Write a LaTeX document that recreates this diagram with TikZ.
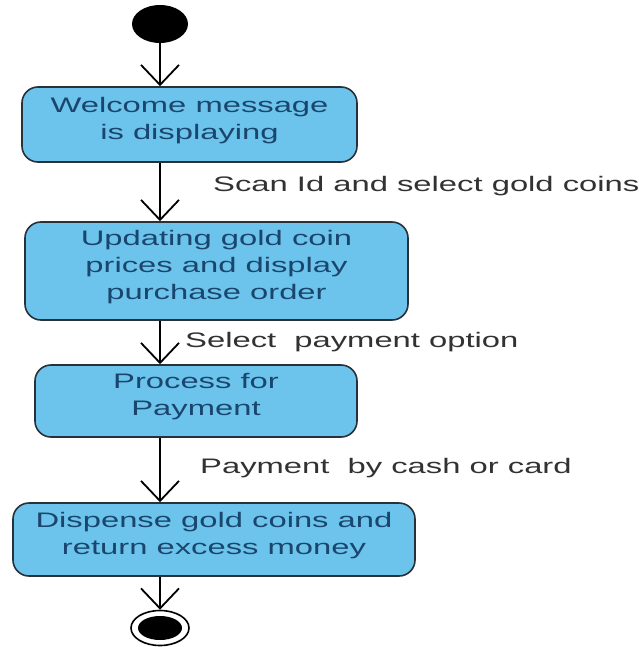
\documentclass[tikz,border=0pt]{standalone}
\usepackage{fontspec}
\usetikzlibrary{arrows.meta,shapes.geometric}
\newfontfamily\diagfont[FakeStretch=1.56]{Liberation Sans}
\definecolor{actfill}{RGB}{108,196,236}
\definecolor{actline}{RGB}{40,48,56}
\definecolor{acttext}{RGB}{26,70,110}
\definecolor{lbltext}{RGB}{50,50,50}
\tikzset{
  activity/.style={draw=actline, line width=1.6pt, fill=actfill, rounded corners=16pt,
    align=center, inner sep=0pt, text=acttext, text depth=13pt,
    font=\diagfont\fontsize{21}{27}\selectfont},
  flow/.style={draw=black, line width=1.8pt,
    -{Straight Barb[length=20pt,width=38pt,line width=1.8pt]}},
  flowlabel/.style={anchor=west, inner sep=0pt, text=lbltext,
    font=\diagfont\fontsize{21}{25}\selectfont},
  initial/.style={ellipse, fill=black, minimum width=56pt, minimum height=38pt, inner sep=0pt},
  finalring/.style={ellipse, draw=black, line width=1.6pt, fill=white,
    minimum width=58pt, minimum height=35pt, inner sep=0pt},
  finaldot/.style={ellipse, fill=black, minimum width=44pt, minimum height=24pt, inner sep=0pt}
}
\begin{document}
\begin{tikzpicture}[x=1pt,y=-1pt]
\useasboundingbox[fill=white] (0,0) rectangle (638,647);

% start and end states
\node[initial] (start) at (160,24) {};
\node[finalring] (stop) at (160,628) {};
\node[finaldot] (stopdot) at (stop.center) {};

% activities
\node[activity, minimum width=335pt, minimum height=75pt] (b1) at (189.5,124.5)
  {Welcome message\\is displaying};
\node[activity, minimum width=383pt, minimum height=98pt] (b2) at (216.5,271)
  {Updating gold coin\\prices and display\\purchase order};
\node[activity, minimum width=322pt, minimum height=72pt] (b3) at (196,401)
  {Process for\\Payment};
\node[activity, minimum width=402pt, minimum height=73pt] (b4) at (214,539.5)
  {Dispense gold coins and\\return excess money};

% transitions
\draw[flow] (start) -- (start |- b1.north);
\draw[flow] (start |- b1.south) -- (start |- b2.north);
\draw[flow] (start |- b2.south) -- (start |- b3.north);
\draw[flow] (start |- b3.south) -- (start |- b4.north);
\draw[flow] (start |- b4.south) -- (stop.north);

% transition labels
\node[flowlabel] (l1) at (213,186) {Scan Id and select gold coins};
\node[flowlabel] (l2) at (185,342) {Select\ \ payment option};
\node[flowlabel] (l3) at (200,468) {Payment\ \ by cash or card};
\end{tikzpicture}
\end{document}
